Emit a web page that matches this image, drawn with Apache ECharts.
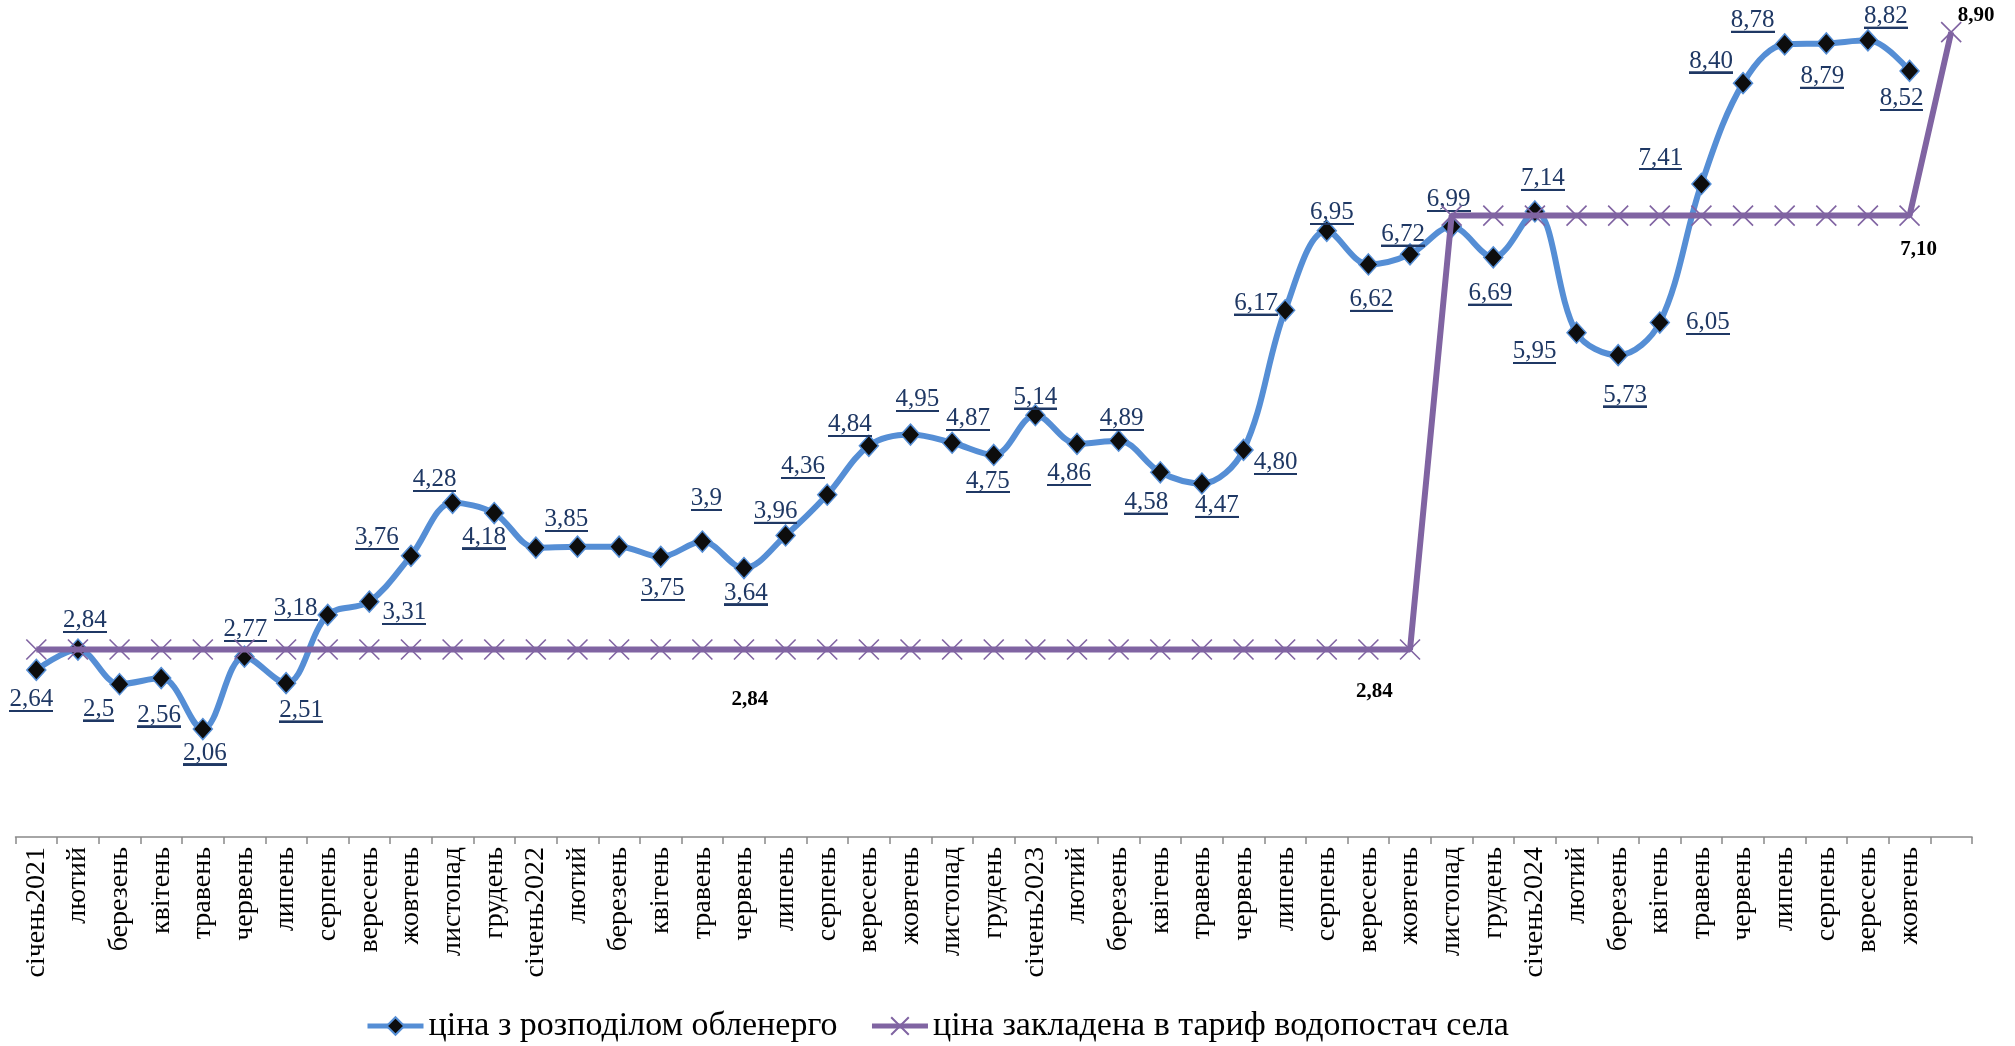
<!DOCTYPE html>
<html>
<head>
<meta charset="utf-8">
<script src="https://cdn.jsdelivr.net/npm/echarts@6/dist/echarts.min.js"></script>
<style>
html,body{margin:0;padding:0;background:#fff;}
#chart{width:2015px;height:1046px;}
</style>
</head>
<body>
<div id="chart"></div>
<script>
// ---- data ----
const categories = ['січень2021','лютий','березень','квітень','травень','червень','липень','серпень','вересень','жовтень','листопад','грудень',
  'січень2022','лютий','березень','квітень','травень','червень','липень','серпень','вересень','жовтень','листопад','грудень',
  'січень2023','лютий','березень','квітень','травень','червень','липень','серпень','вересень','жовтень','листопад','грудень',
  'січень2024','лютий','березень','квітень','травень','червень','липень','серпень','вересень','жовтень',''];

const oblenergoPrice = [2.64,2.84,2.5,2.56,2.06,2.77,2.51,3.18,3.31,3.76,4.28,4.18,
  3.84,3.85,3.85,3.75,3.9,3.64,3.96,4.36,4.84,4.95,4.87,4.75,
  5.14,4.86,4.89,4.58,4.47,4.80,6.17,6.95,6.62,6.72,6.99,6.69,
  7.14,5.95,5.73,6.05,7.41,8.40,8.78,8.79,8.82,8.52,null];

const oblenergoLabels = ['2,64','2,84','2,5','2,56','2,06','2,77','2,51','3,18','3,31','3,76','4,28','4,18',
  null,'3,85',null,'3,75','3,9','3,64','3,96','4,36','4,84','4,95','4,87','4,75',
  '5,14','4,86','4,89','4,58','4,47','4,80','6,17','6,95','6,62','6,72','6,99','6,69',
  '7,14','5,95','5,73','6,05','7,41','8,40','8,78','8,79','8,82','8,52',null];

const tariffPrice = [2.84,2.84,2.84,2.84,2.84,2.84,2.84,2.84,2.84,2.84,2.84,2.84,
  2.84,2.84,2.84,2.84,2.84,2.84,2.84,2.84,2.84,2.84,2.84,2.84,
  2.84,2.84,2.84,2.84,2.84,2.84,2.84,2.84,2.84,2.84,7.10,7.10,
  7.10,7.10,7.10,7.10,7.10,7.10,7.10,7.10,7.10,7.10,8.90];

const tariffLabels = {17:'2,84', 32:'2,84', 45:'7,10', 46:'8,90'};

const seriesNames = ['ціна з розподілом обленерго','ціна закладена в тариф водопостач села'];

// ---- label placement (style only) ----
const oblLabelOffset = [[-5,30],[7,-29],[-21,25],[-2,37],[2,24],[1,-27],[15,27],[-32,-6],[35,11],[-34,-18],[-18,-23],[-10,24],
  null,[-11,-27],null,[2,32],[4,-43],[2,25],[-10,-24],[-24,-28],[-19,-21],[7,-35],[16,-24],[-6,26],
  [0,-18],[-8,30],[3,-22],[-14,30],[15,22],[32,13],[-29,-7],[5,-18],[3,35],[-7,-20],[-3,-27],[-3,36],
  [8,-33],[-42,19],[7,40],[48,0],[-41,-26],[-32,-22],[-32,-24],[-4,33],[18,-24],[-8,28],null];
const tariffLabelOffset = {17:[6,50], 32:[6,42], 45:[9,34], 46:[25,-17]};

const SERIF = "'Liberation Serif','Times New Roman',serif";
const BLUE = '#558ED5', PURPLE = '#8064A2', NAVY = '#1F3864';

function underlineImage(color){
  const c = document.createElement('canvas');
  c.width = 4; c.height = 44;
  const ctx = c.getContext('2d');
  ctx.fillStyle = color;
  ctx.fillRect(0, 40, 4, 4);
  return c;
}
const ulImg = underlineImage(NAVY);

const oblData = oblenergoPrice.map((v, i) => {
  const item = {value: v};
  if (oblenergoLabels[i] && oblLabelOffset[i]) {
    item.label = {show: true, position: 'inside', offset: oblLabelOffset[i],
      formatter: '{u|' + oblenergoLabels[i] + '}'};
  }
  return item;
});
const tariffData = tariffPrice.map((v, i) => {
  const item = {value: v};
  if (tariffLabels[i]) {
    item.label = {show: true, position: 'inside', offset: tariffLabelOffset[i], formatter: tariffLabels[i]};
  }
  return item;
});

const chart = echarts.init(document.getElementById('chart'), null, {renderer: 'canvas'});
chart.setOption({
  animation: false,
  backgroundColor: '#fff',
  grid: {left: 15.5, right: 43, top: 22, bottom: 209, containLabel: false},
  legend: {
    left: 360, top: 1004, itemWidth: 56, itemHeight: 22, itemGap: 32,
    lineStyle: {width: 5},
    textStyle: {fontFamily: SERIF, fontSize: 34, color: '#000'},
    data: seriesNames
  },
  xAxis: {
    type: 'category', data: categories, boundaryGap: true,
    axisLine: {lineStyle: {color: '#898989', width: 1.5}},
    axisTick: {show: true, length: 7, interval: 0, lineStyle: {color: '#898989', width: 1.5}},
    axisLabel: {interval: 0, rotate: 90, margin: 10, fontFamily: SERIF, fontSize: 28, color: '#000'},
    splitLine: {show: false}
  },
  yAxis: {type: 'value', min: 1, max: 9, show: false, splitLine: {show: false}},
  series: [
    {
      name: seriesNames[0], type: 'line', data: oblData, smooth: 0.35,
      symbol: 'diamond', symbolSize: [19, 21],
      lineStyle: {color: BLUE, width: 6},
      itemStyle: {color: '#0d0d0d', borderColor: BLUE, borderWidth: 1.5},
      label: {show: false, rich: {u: {fontFamily: SERIF, fontSize: 25, color: NAVY, lineHeight: 23,
        backgroundColor: {image: ulImg}}}},
      z: 2
    },
    {
      name: seriesNames[1], type: 'line', data: tariffData,
      symbol: 'path://M0,0L10,10M10,0L0,10', symbolSize: 20,
      lineStyle: {color: PURPLE, width: 6},
      itemStyle: {color: 'none', borderColor: PURPLE, borderWidth: 1.6},
      label: {show: false, fontFamily: SERIF, fontSize: 21, fontWeight: 'bold', color: '#000'},
      z: 3
    }
  ]
});
</script>
</body>
</html>
